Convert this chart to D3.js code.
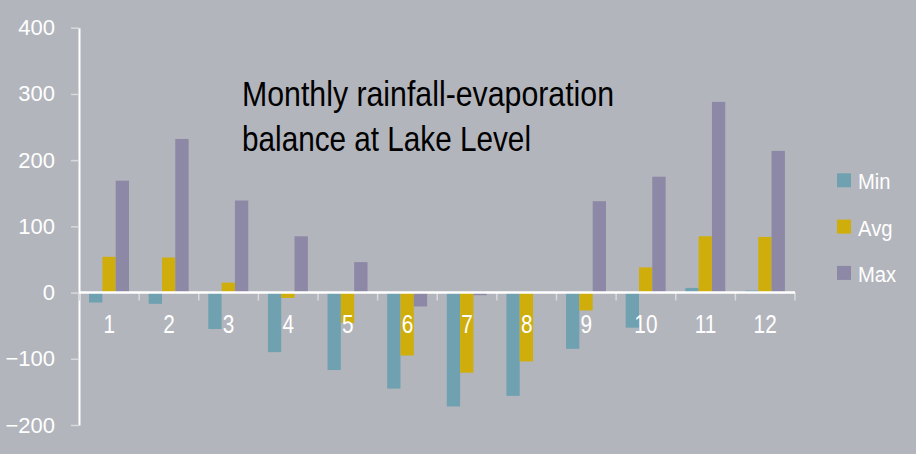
<!DOCTYPE html>
<html>
<head>
<meta charset="utf-8">
<script src="https://cdn.jsdelivr.net/npm/d3@7"></script>
<style>
  body { margin: 0; background: #b3b5bc; }
  svg { display: block; }
  text { font-family: "Liberation Sans Narrow", "Arial Narrow", "Liberation Sans", Arial, sans-serif; }
</style>
</head>
<body>
<svg id="chart" width="916" height="454"></svg>
<script>
const months = ['1', '2', '3', '4', '5', '6', '7', '8', '9', '10', '11', '12']
const seriesNames = ['Min', 'Avg', 'Max']
const minVals = [-15, -17, -55, -90, -117, -145, -172, -156, -85, -53, 7, 3]
const avgVals = [54, 53, 15, -8, -46, -95, -121, -104, -27, 38, 85, 84]
const maxVals = [169, 232, 139, 85, 46, -21, -4, 0, 138, 175, 288, 214]
const yTicks = [-200, -100, 0, 100, 200, 300, 400]
const colors = ['#6fa1b1', '#cfae0c', '#8c88a5']
const titleLines = ['Monthly rainfall-evaporation', 'balance at Lake Level']
const titleWidths = [372, 289]

const values = [minVals, avgVals, maxVals]
const svg = d3.select('#chart')

svg.append('rect').attr('width', 916).attr('height', 454).attr('fill', '#b3b5bc')

const y = d3.scaleLinear().domain([-200, 400]).range([425, 27.7])
const x = d3.scaleBand().domain(months).range([79.5, 795]).padding(0)
const bw = x.bandwidth()
const x1 = d3.scaleBand().domain(seriesNames).range([bw * 0.16, bw * 0.83]).padding(0)

// bars
const groups = svg.append('g').selectAll('g')
  .data(months)
  .join('g')
    .attr('transform', d => `translate(${x(d)},0)`)

groups.selectAll('rect')
  .data((m, i) => seriesNames.map((s, k) => ({ s, v: values[k][i], c: colors[k] })))
  .join('rect')
    .attr('x', d => x1(d.s))
    .attr('width', x1.bandwidth())
    .attr('y', d => y(Math.max(0, d.v)))
    .attr('height', d => Math.abs(y(d.v) - y(0)))
    .attr('fill', d => d.c)

// y axis
const yAxis = svg.append('g')
  .attr('transform', 'translate(79,0)')
  .call(d3.axisLeft(y).tickValues(yTicks).tickSize(8).tickSizeOuter(0).tickPadding(16))
yAxis.select('.domain').attr('stroke', '#ffffff').attr('stroke-width', 2)
yAxis.selectAll('.tick line').attr('stroke', '#d8d9dc').attr('stroke-width', 1.5)
yAxis.selectAll('.tick text')
  .attr('fill', '#ffffff')
  .style('font-size', '22px')

// x axis at zero
const xTickPos = months.map(m => x(m)).concat([x.range()[1]])
svg.append('g').selectAll('line')
  .data(xTickPos)
  .join('line')
    .attr('x1', d => d).attr('x2', d => d)
    .attr('y1', y(0)).attr('y2', y(0) + 8)
    .attr('stroke', '#d8d9dc').attr('stroke-width', 1.5)

svg.append('line')
  .attr('x1', 79).attr('x2', x.range()[1])
  .attr('y1', y(0)).attr('y2', y(0))
  .attr('stroke', '#ffffff').attr('stroke-width', 2.5)

svg.append('g').selectAll('text')
  .data(months)
  .join('text')
    .attr('transform', d => `translate(${x(d) + bw / 2},333) scale(0.8,1)`)
    .attr('text-anchor', 'middle')
    .attr('fill', '#ffffff')
    .style('font-size', '26px')
    .text(d => d)

// title
svg.append('g').selectAll('text')
  .data(titleLines)
  .join('text')
    .attr('x', 242)
    .attr('y', (d, i) => 106 + i * 45)
    .attr('fill', '#000000')
    .attr('textLength', (d, i) => titleWidths[i])
    .attr('lengthAdjust', 'spacingAndGlyphs')
    .style('font-size', '35px')
    .text(d => d)

// legend
const legend = svg.append('g').selectAll('g')
  .data(seriesNames)
  .join('g')
    .attr('transform', (d, i) => `translate(837,${173.3 + i * 46.3})`)
legend.append('rect')
  .attr('width', 14).attr('height', 14)
  .attr('fill', (d, i) => colors[i])
legend.append('text')
  .attr('transform', 'translate(21,16) scale(0.92,1)')
  .attr('fill', '#ffffff')
  .style('font-size', '22px')
  .text(d => d)
</script>
</body>
</html>
